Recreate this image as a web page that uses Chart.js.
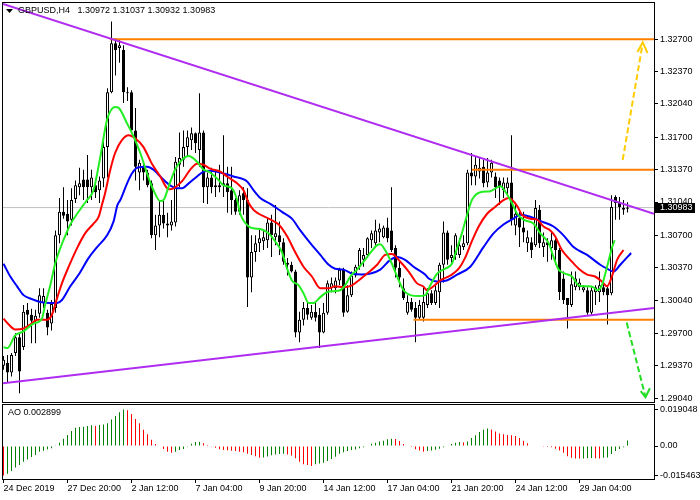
<!DOCTYPE html>
<html>
<head>
<meta charset="utf-8">
<script src="https://cdn.jsdelivr.net/npm/chart.js@4"></script>
<style>
  body { margin: 0; background: #fff; }
  #wrap { position: relative; width: 700px; height: 500px; }
  #main { position: absolute; left: 0; top: 0; }
  #osc { position: absolute; left: 0; top: 403px; }
</style>
</head>
<body>
<div id="wrap">
  <canvas id="main" width="700" height="403"></canvas>
  <canvas id="osc" width="700" height="97"></canvas>
</div>
<script>
'use strict';

const symbol = 'GBPUSD,H4';

// H4 candles, one per bar index
const opens = [
  1.2937,1.2940,1.2930,1.2950,1.2966,1.2956,1.2994,1.2989,1.2982,1.2990,
  1.3001,1.2991,1.2980,1.2996,1.3070,1.3094,1.3092,1.3086,1.3107,1.3119,
  1.3127,1.3127,1.3119,1.3121,1.3116,1.3128,1.3160,1.3216,1.3266,1.3261,
  1.3259,1.3216,1.3216,1.3177,1.3134,1.3140,1.3134,1.3123,1.3070,1.3080,
  1.3091,1.3082,1.3080,1.3083,1.3142,1.3147,1.3160,1.3167,1.3174,1.3157,
  1.3175,1.3119,1.3129,1.3121,1.3119,1.3121,1.3123,1.3116,1.3106,1.3094,
  1.3113,1.3106,1.3027,1.3053,1.3062,1.3064,1.3065,1.3083,1.3068,1.3070,
  1.3063,1.3040,1.3040,1.3033,1.2971,1.2984,1.2996,1.2986,1.2992,1.2989,
  1.2971,1.2991,1.3016,1.3016,1.3024,1.3035,1.2992,1.3009,1.3029,1.3038,
  1.3045,1.3050,1.3065,1.3062,1.3073,1.3068,1.3078,1.3075,1.3057,1.3037,
  1.3016,1.2991,1.3002,1.2996,1.2986,1.2986,1.2999,1.3011,1.3001,1.3012,
  1.3040,1.3073,1.3047,1.3050,1.3050,1.3058,1.3062,1.3134,1.3130,1.3135,
  1.3140,1.3124,1.3134,1.3130,1.3126,1.3116,1.3118,1.3124,1.3080,1.3088,
  1.3078,1.3062,1.3063,1.3060,1.3096,1.3058,1.3063,1.3057,1.3065,1.3055,
  1.3026,1.3006,1.2999,1.3017,1.3017,1.3014,1.3014,1.2991,1.3012,1.3012,
  1.3017,1.3016,1.3011,1.3109,1.3103,1.3096,1.30972
];
const highs = [
  1.2947,1.2948,1.2950,1.2970,1.2971,1.2999,1.3001,1.2995,1.2994,1.3016,
  1.3016,1.2994,1.3004,1.3075,1.3108,1.3119,1.3106,1.3118,1.3126,1.3139,
  1.3137,1.3152,1.3137,1.3128,1.3130,1.3167,1.3220,1.3288,1.3271,1.3269,
  1.3264,1.3221,1.3218,1.3200,1.3147,1.3144,1.3137,1.3126,1.3091,1.3106,
  1.3106,1.3093,1.3106,1.3150,1.3175,1.3177,1.3177,1.3180,1.3175,1.3215,
  1.3177,1.3134,1.3139,1.3137,1.3142,1.3172,1.3140,1.3140,1.3108,1.3116,
  1.3119,1.3118,1.3070,1.3070,1.3077,1.3075,1.3088,1.3091,1.3101,1.3084,
  1.3067,1.3047,1.3043,1.3035,1.2992,1.3002,1.3001,1.2999,1.3002,1.2996,
  1.3001,1.3024,1.3027,1.3027,1.3037,1.3037,1.3019,1.3033,1.3040,1.3057,
  1.3057,1.3068,1.3075,1.3086,1.3082,1.3080,1.3088,1.3119,1.3060,1.3043,
  1.3026,1.3009,1.3006,1.3002,1.3004,1.3017,1.3016,1.3014,1.3019,1.3042,
  1.3084,1.3075,1.3060,1.3072,1.3067,1.3070,1.3137,1.3154,1.3150,1.3150,
  1.3147,1.3149,1.3147,1.3134,1.3129,1.3129,1.3129,1.3172,1.3101,1.3094,
  1.3094,1.3075,1.3068,1.3106,1.3101,1.3073,1.3067,1.3073,1.3067,1.3057,
  1.3033,1.3006,1.3033,1.3033,1.3026,1.3019,1.3017,1.3017,1.3019,1.3033,
  1.3022,1.3019,1.3111,1.3111,1.3109,1.3106,1.31037
];
const lows = [
  1.2933,1.2920,1.2926,1.2947,1.2909,1.2953,1.2976,1.2960,1.2960,1.2986,
  1.2996,1.2968,1.2973,1.2991,1.3062,1.3087,1.3070,1.3080,1.3103,1.3111,
  1.3106,1.3103,1.3106,1.3108,1.3103,1.3119,1.3129,1.3215,1.3233,1.3246,
  1.3205,1.3207,1.3177,1.3126,1.3116,1.3126,1.3119,1.3067,1.3055,1.3068,
  1.3077,1.3068,1.3075,1.3079,1.3119,1.3140,1.3150,1.3157,1.3154,1.3140,
  1.3103,1.3102,1.3113,1.3109,1.3114,1.3109,1.3093,1.3091,1.3091,1.3091,
  1.3091,1.2997,1.3012,1.3043,1.3053,1.3055,1.3057,1.3048,1.3060,1.3050,
  1.3040,1.3029,1.3032,1.2966,1.2961,1.2978,1.2984,1.2984,1.2982,1.2955,
  1.2970,1.2989,1.3012,1.3011,1.3019,1.2987,1.2991,1.3007,1.3027,1.3035,
  1.3038,1.3047,1.3057,1.3058,1.3063,1.3067,1.3063,1.3053,1.3027,1.3017,
  1.3004,1.2989,1.2992,1.2961,1.2984,1.2982,1.2996,1.2999,1.2999,1.2996,
  1.3022,1.3040,1.3042,1.3045,1.3047,1.3055,1.3060,1.3121,1.3121,1.3128,
  1.3119,1.3119,1.3129,1.3108,1.3101,1.3108,1.3111,1.3080,1.3070,1.3058,
  1.3063,1.3053,1.3047,1.3058,1.3057,1.3048,1.3043,1.3045,1.3040,1.3004,
  1.3000,1.2975,1.2997,1.3014,1.3014,1.3012,1.2989,1.2989,1.2999,1.3002,
  1.3009,1.2979,1.3009,1.3086,1.3086,1.3091,1.30932
];
const closes = [
  1.2943,1.2930,1.2948,1.2966,1.2931,1.2992,1.2989,1.2983,1.2988,1.3009,
  1.3008,1.2976,1.3000,1.3070,1.3094,1.3090,1.3084,1.3106,1.3121,1.3123,
  1.3119,1.3119,1.3129,1.3114,1.3126,1.3160,1.3216,1.3266,1.3259,1.3264,
  1.3216,1.3215,1.3177,1.3140,1.3144,1.3134,1.3121,1.3070,1.3080,1.3091,
  1.3082,1.3080,1.3084,1.3145,1.3149,1.3160,1.3170,1.3174,1.3164,1.3175,
  1.3119,1.3129,1.3119,1.3119,1.3121,1.3123,1.3114,1.3106,1.3094,1.3111,
  1.3106,1.3027,1.3053,1.3062,1.3067,1.3068,1.3083,1.3070,1.3072,1.3063,
  1.3043,1.3042,1.3033,1.2971,1.2984,1.2996,1.2989,1.2992,1.2986,1.2971,
  1.2991,1.3021,1.3021,1.3024,1.3035,1.2991,1.3009,1.3029,1.3038,1.3055,
  1.3050,1.3067,1.3072,1.3075,1.3077,1.3078,1.3067,1.3055,1.3037,1.3027,
  1.3006,1.3002,1.2994,1.2986,1.2999,1.3002,1.3011,1.3001,1.3014,1.3040,
  1.3073,1.3045,1.3050,1.3070,1.3060,1.3062,1.3134,1.3130,1.3142,1.3139,
  1.3123,1.3134,1.3144,1.3119,1.3119,1.3124,1.3124,1.3086,1.3092,1.3078,
  1.3073,1.3068,1.3055,1.3098,1.3062,1.3063,1.3060,1.3065,1.3055,1.3012,
  1.3004,1.2999,1.3020,1.3026,1.3022,1.3017,1.2991,1.3014,1.3017,1.3019,
  1.3012,1.3009,1.3099,1.3103,1.3099,1.3098,1.30983
];

// Awesome Oscillator, one per bar
const ao = [
  -0.015463,-0.0145,-0.0131,-0.0113,-0.0099,-0.0082,-0.0070,-0.0058,-0.0047,-0.0030,
  -0.0025,-0.0017,-0.0012,0.0001,0.0017,0.0038,0.0058,0.0078,0.0096,0.0099,
  0.0101,0.0105,0.0108,0.0105,0.0110,0.0113,0.0119,0.0138,0.0157,0.0176,
  0.019048,0.0187,0.0167,0.0141,0.0119,0.0085,0.0061,0.0033,0.0010,0.0002,
  -0.0016,-0.0030,-0.0035,-0.0030,-0.0021,-0.0016,-0.0001,0.0012,0.0021,0.0022,
  0.0014,0.0005,-0.0001,-0.0009,-0.0017,-0.0021,-0.0022,-0.0025,-0.0026,-0.0030,
  -0.0033,-0.0040,-0.0047,-0.0054,-0.0061,-0.0060,-0.0055,-0.0048,-0.0045,-0.0042,
  -0.0041,-0.0045,-0.0050,-0.0064,-0.0082,-0.0096,-0.0100,-0.0104,-0.0096,-0.0092,
  -0.0087,-0.0079,-0.0068,-0.0056,-0.0041,-0.0033,-0.0026,-0.0021,-0.0018,-0.0012,
  -0.0006,-0.0003,0.0012,0.0017,0.0023,0.0028,0.0035,0.0038,0.0037,0.0026,
  0.0010,-0.0002,-0.0005,-0.0017,-0.0023,-0.0030,-0.0026,-0.0023,-0.0019,-0.0014,
  -0.0006,0.0002,0.0010,0.0017,0.0021,0.0018,0.0023,0.0042,0.0056,0.0073,
  0.0085,0.0091,0.0086,0.0076,0.0066,0.0061,0.0057,0.0056,0.0052,0.0042,
  0.0028,0.0014,0.0002,-0.0002,-0.0003,-0.0004,-0.0005,-0.0006,-0.0014,-0.0023,
  -0.0035,-0.0054,-0.0061,-0.0065,-0.0066,-0.0065,-0.0064,-0.0063,-0.0064,-0.0065,
  -0.0062,-0.0060,-0.0042,-0.0026,-0.0016,-0.0006,0.002899
];

// alligator lines: [bar, price]
const lips = [
  [0,1.2956],[1,1.2955],[2.9,1.2968],[5,1.2972],[7.5,1.2980],[9.6,1.2985],[10.4,1.2999],[11.7,1.3019],
  [12.9,1.3041],[14.2,1.3057],[15.4,1.3069],[16.7,1.3081],[17.9,1.3089],[20,1.3101],[20.9,1.3106],
  [22.5,1.3116],[24.2,1.3150],[25.9,1.3188],[27.9,1.3201],[28.8,1.3200],[30.9,1.3184],[32.5,1.3171],
  [34.2,1.3154],[35.9,1.3133],[37.5,1.3116],[39.2,1.3105],[40,1.3106],[41.3,1.3120],[42.9,1.3137],
  [44.6,1.3147],[46.3,1.3151],[48.4,1.3145],[50,1.3137],[51.3,1.3135],[53.4,1.3128],[55,1.3121],
  [57.1,1.3118],[58.4,1.3106],[59.2,1.3092],[61.3,1.3079],[62.9,1.3077],[64.6,1.3076],[66.3,1.3072],
  [67.9,1.3064],[69.6,1.3053],[70.9,1.3036],[72.1,1.3024],[73.8,1.3019],[75,1.3011],[76.3,1.3001],
  [77.5,1.3001],[79.2,1.3007],[80.9,1.3012],[82.5,1.3013],[84.2,1.3014],[85.4,1.3019],[86.7,1.3028],
  [88.4,1.3035],[90,1.3043],[91.7,1.3052],[93.4,1.3060],[94.2,1.3061],[95.4,1.3055],[97.1,1.3041],
  [98.4,1.3028],[100,1.3014],[101.7,1.3009],[103.8,1.3008],[105.4,1.3009],[106.7,1.3019],[108.4,1.3031],
  [110.4,1.3036],[112.1,1.3041],[113.4,1.3057],[114.6,1.3072],[115.9,1.3091],[117.1,1.3106],[119.2,1.3114],
  [121.7,1.3115],[124.2,1.3120],[125.4,1.3115],[127.1,1.3103],[128.4,1.3092],[130,1.3086],[132.5,1.3082],
  [134.2,1.3072],[136.3,1.3062],[137.5,1.3048],[138.8,1.3035],[140.4,1.3031],[142.1,1.3028],[143.8,1.3019],
  [145.9,1.3018],[147.5,1.3017],[148.4,1.3014],[149.6,1.3019],[150.9,1.3038],[152.1,1.3057],[152.8,1.3065]
];
const teeth = [
  [0,1.2985],[1.3,1.2979],[2.9,1.2974],[5,1.2975],[6.7,1.2979],[8.4,1.2984],[10.9,1.2984],[12.1,1.2989],
  [13.4,1.3006],[14.6,1.3021],[16.3,1.3038],[18.4,1.3057],[20.4,1.3072],[22.5,1.3082],[23.8,1.3089],
  [24.6,1.3101],[25.4,1.3113],[26.7,1.3137],[27.9,1.3154],[29.6,1.3167],[31.3,1.3172],[32.9,1.3169],
  [35,1.3160],[37.1,1.3143],[39.2,1.3130],[41.3,1.3117],[42.5,1.3118],[44.6,1.3125],[46.7,1.3137],
  [48.4,1.3143],[50,1.3142],[51.7,1.3138],[54.2,1.3135],[55.9,1.3130],[58.4,1.3123],[60,1.3116],
  [61.3,1.3103],[62.5,1.3096],[63.8,1.3092],[66.3,1.3087],[68.8,1.3081],[70.9,1.3069],[72.9,1.3053],
  [75,1.3038],[77.1,1.3028],[79.2,1.3016],[81.3,1.3016],[82.9,1.3018],[85,1.3017],[87.1,1.3019],
  [88.8,1.3024],[90.9,1.3031],[93.4,1.3040],[95.4,1.3050],[97.1,1.3051],[99.2,1.3043],[101.3,1.3033],
  [103.4,1.3021],[104.9,1.3018],[105.9,1.3014],[107.5,1.3018],[109.2,1.3024],[111.7,1.3029],[113.8,1.3036],
  [115.4,1.3047],[117.1,1.3064],[118.8,1.3079],[120.9,1.3092],[122.9,1.3099],[125,1.3106],[126.3,1.3108],
  [128.4,1.3100],[129.6,1.3091],[131.7,1.3087],[133.4,1.3086],[135,1.3079],[136.7,1.3075],[137.9,1.3069],
  [139.6,1.3055],[141.7,1.3045],[143.8,1.3036],[145.9,1.3030],[147.9,1.3028],[149.6,1.3023],[150.9,1.3018],
  [152.1,1.3028],[153.4,1.3045],[155,1.3055]
];
const jaw = [
  [0,1.3041],[1.7,1.3028],[3.4,1.3018],[5,1.3009],[7.1,1.3005],[9.2,1.3002],[11.7,1.3001],[13.4,1.3001],
  [14.6,1.3004],[16.7,1.3018],[18.8,1.3030],[21.3,1.3047],[23.4,1.3058],[25.9,1.3070],[27.5,1.3084],
  [28.5,1.3101],[29.2,1.3106],[30.9,1.3123],[32.1,1.3133],[33.4,1.3139],[35.9,1.3140],[37.5,1.3137],
  [39.2,1.3130],[41.3,1.3122],[43.4,1.3118],[44.6,1.3118],[46.3,1.3123],[48.4,1.3130],[50,1.3135],
  [51.7,1.3136],[55,1.3133],[57.5,1.3130],[60.9,1.3125],[62.5,1.3116],[64.2,1.3108],[66.7,1.3102],
  [69.6,1.3094],[72.1,1.3087],[74.2,1.3075],[76.7,1.3062],[79.2,1.3050],[81.3,1.3040],[82.9,1.3036],
  [85,1.3035],[87.1,1.3031],[89.6,1.3030],[91.7,1.3031],[94.2,1.3035],[96.7,1.3045],[98.4,1.3048],
  [100.4,1.3045],[102.5,1.3038],[105.4,1.3030],[106.3,1.3026],[108.4,1.3023],[110.8,1.3024],[113.4,1.3030],
  [116.7,1.3038],[120,1.3058],[122.5,1.3072],[125,1.3081],[127.5,1.3087],[129.2,1.3091],[131.7,1.3089],
  [134.6,1.3084],[137.5,1.3079],[140,1.3070],[142.5,1.3058],[145.9,1.3050],[149.2,1.3040],[150.9,1.3036],
  [152.5,1.3033],[154.2,1.3040],[156.9,1.3052]
];

// drawn objects: [bar, price]
const upperTrend = [[-0.125,1.3306],[162.625,1.3092]];
const lowerTrend = [[-0.125,1.2919],[162.625,1.2996]];
const levelHigh = [[26.6,1.3270],[162.625,1.3270]];
const levelMid = [[117.1,1.3137],[162.625,1.3137]];
const levelLow = [[102.5,1.2984],[162.625,1.2984]];
const upArrow = [[154.8,1.3147],[159.8,1.3266]];
const upHead = [[158.5,1.3257],[159.8,1.3267],[161,1.3256]];
const downArrow = [[155.8,1.2981],[160.5,1.2905]];
const downHead = [[159.3,1.2911],[160.5,1.2905],[161.6,1.2914]];

const priceTicks = [1.32700,1.32370,1.32040,1.31700,1.31370,1.31040,1.30700,1.30370,1.30040,1.29700,1.29370,1.29040];
const aoTicks = [0.019048,0,-0.015463];
const timeIdx = [0,16,32,48,64,80,96,112,128,144];
const timeLabels = ['24 Dec 2019','27 Dec 20:00','2 Jan 12:00','7 Jan 04:00','9 Jan 20:00','14 Jan 12:00','17 Jan 04:00','21 Jan 20:00','24 Jan 12:00','29 Jan 04:00'];

const xMin = -0.125;
const xMax = 162.625;
const last = closes.length - 1;
const fontFamily = "'Liberation Sans', Arial, sans-serif";
const tickFont = { family: fontFamily, size: 9 };
const cssFont = '9px ' + fontFamily;

function pts(arr) {
  return arr.map(p => ({ x: p[0], y: p[1] }));
}

function lineSet(arr, color, width, order, dash, smooth) {
  return {
    type: 'line',
    data: pts(arr),
    borderColor: color,
    borderWidth: width,
    borderDash: dash || [],
    pointRadius: 0,
    fill: false,
    order: order,
    cubicInterpolationMode: smooth ? 'monotone' : 'default',
    tension: 0
  };
}

// stop the label overhang from shrinking the plot area
function noPad(s) {
  s.paddingTop = 0;
  s.paddingBottom = 0;
  s.paddingLeft = 0;
  s.paddingRight = 0;
}

let barIdx = closes.map((c, i) => i);

let framePlugin = {
  id: 'frame',
  afterDraw(chart) {
    let a = chart.chartArea;
    let ctx = chart.ctx;
    ctx.save();
    ctx.strokeStyle = '#000';
    ctx.lineWidth = 1;
    ctx.strokeRect(Math.floor(a.left) - 0.5, Math.floor(a.top) + 0.5, Math.round(a.right - a.left) + 1, Math.round(a.bottom - a.top));
    ctx.restore();
  }
};

let headerPlugin = {
  id: 'header',
  afterDraw(chart) {
    let ctx = chart.ctx;
    let a = chart.chartArea;
    ctx.save();
    ctx.fillStyle = '#000';
    ctx.beginPath();
    ctx.moveTo(6, 9);
    ctx.lineTo(13, 9);
    ctx.lineTo(9.5, 13);
    ctx.closePath();
    ctx.fill();
    ctx.font = cssFont;
    ctx.textBaseline = 'middle';
    let title = symbol + '   ' + [opens[last], highs[last], lows[last], closes[last]].map(v => v.toFixed(5)).join(' ');
    ctx.fillText(title, 18, 11);
    // current price tag on the axis
    let y = Math.round(chart.scales.y.getPixelForValue(closes[last]));
    ctx.fillRect(a.right + 1, y - 5, 40, 10);
    ctx.fillStyle = '#fff';
    ctx.fillText(closes[last].toFixed(5), a.right + 6, y);
    ctx.restore();
  }
};

let aoLabelPlugin = {
  id: 'aoLabel',
  afterDraw(chart) {
    let ctx = chart.ctx;
    ctx.save();
    ctx.fillStyle = '#000';
    ctx.font = cssFont;
    ctx.textBaseline = 'middle';
    ctx.fillText('AO ' + ao[last].toFixed(6), 8, 10);
    ctx.restore();
  }
};

new Chart(document.getElementById('main'), {
  type: 'bar',
  data: {
    datasets: [
      lineSet(lips, '#22ee22', 2, 0, null, true),
      lineSet(teeth, '#ff0000', 2, 0, null, true),
      lineSet(jaw, '#0000ff', 2, 0, null, true),
      lineSet(upperTrend, '#b02cf0', 2, 0),
      lineSet(lowerTrend, '#b02cf0', 2, 0),
      lineSet(levelHigh, '#ff8000', 2, 0),
      lineSet(levelMid, '#ff8000', 2, 0),
      lineSet(levelLow, '#ff8000', 2, 0),
      lineSet(upArrow, '#ffcc00', 2, 0, [6, 3]),
      lineSet(upHead, '#ffcc00', 2, 0),
      lineSet(downArrow, '#22dd22', 2, 0, [6, 3]),
      lineSet(downHead, '#22dd22', 2, 0),
      {
        type: 'bar',
        data: barIdx.map(i => ({ x: i, y: [opens[i], closes[i]] })),
        backgroundColor: ctx => closes[ctx.dataIndex] >= opens[ctx.dataIndex] ? '#fff' : '#000',
        borderColor: '#000',
        borderWidth: 1,
        borderSkipped: false,
        barThickness: 3,
        minBarLength: 1,
        inflateAmount: 0,
        grouped: false,
        order: 3
      },
      {
        type: 'bar',
        data: barIdx.map(i => ({ x: i, y: [lows[i], highs[i]] })),
        backgroundColor: '#000',
        barThickness: 1,
        inflateAmount: 0,
        grouped: false,
        order: 4
      },
      lineSet([[xMin, closes[last]], [xMax, closes[last]]], '#c0c0c0', 1, 5)
    ]
  },
  options: {
    animation: false,
    responsive: false,
    layout: { padding: { left: 3, top: 2, right: 0, bottom: 1 } },
    plugins: { legend: { display: false }, tooltip: { enabled: false } },
    scales: {
      x: { type: 'linear', min: xMin, max: xMax, display: false, offset: false },
      y: {
        position: 'right',
        min: 1.2900,
        max: 1.3308,
        afterBuildTicks: s => { s.ticks = priceTicks.map(v => ({ value: v })); },
        afterFit: s => { s.width = 46; noPad(s); },
        grid: { drawOnChartArea: false, tickLength: 4, color: '#000' },
        border: { display: false },
        ticks: { color: '#000', padding: 2, font: tickFont, autoSkip: false, callback: v => v.toFixed(5) }
      }
    }
  },
  plugins: [framePlugin, headerPlugin]
});

new Chart(document.getElementById('osc'), {
  type: 'bar',
  data: {
    datasets: [{
      data: ao.map((v, i) => ({ x: i, y: v })),
      backgroundColor: ctx => (ctx.dataIndex > 0 && ao[ctx.dataIndex] > ao[ctx.dataIndex - 1]) ? '#008000' : '#ff0000',
      barThickness: 1,
      inflateAmount: 0,
      grouped: false
    }]
  },
  options: {
    animation: false,
    responsive: false,
    layout: { padding: { left: 3, top: 1, right: 0, bottom: 0 } },
    plugins: { legend: { display: false }, tooltip: { enabled: false } },
    scales: {
      x: {
        type: 'linear',
        min: xMin,
        max: xMax,
        offset: false,
        afterBuildTicks: s => { s.ticks = timeIdx.map(v => ({ value: v })); },
        afterFit: s => { s.height = 21; noPad(s); },
        grid: { drawOnChartArea: false, tickLength: 4, color: '#000', offset: false },
        border: { display: false },
        ticks: {
          color: '#000', padding: 0, font: tickFont, autoSkip: false, maxRotation: 0, align: 'start',
          callback: v => timeLabels[timeIdx.indexOf(v)]
        }
      },
      y: {
        position: 'right',
        min: -0.01726,
        max: 0.02197,
        afterBuildTicks: s => { s.ticks = aoTicks.map(v => ({ value: v })); },
        afterFit: s => { s.width = 46; noPad(s); },
        grid: { drawOnChartArea: false, tickLength: 4, color: '#000' },
        border: { display: false },
        ticks: { color: '#000', padding: 2, font: tickFont, autoSkip: false, callback: v => v === 0 ? '0.00' : v.toFixed(6) }
      }
    }
  },
  plugins: [framePlugin, aoLabelPlugin]
});
</script>
</body>
</html>
